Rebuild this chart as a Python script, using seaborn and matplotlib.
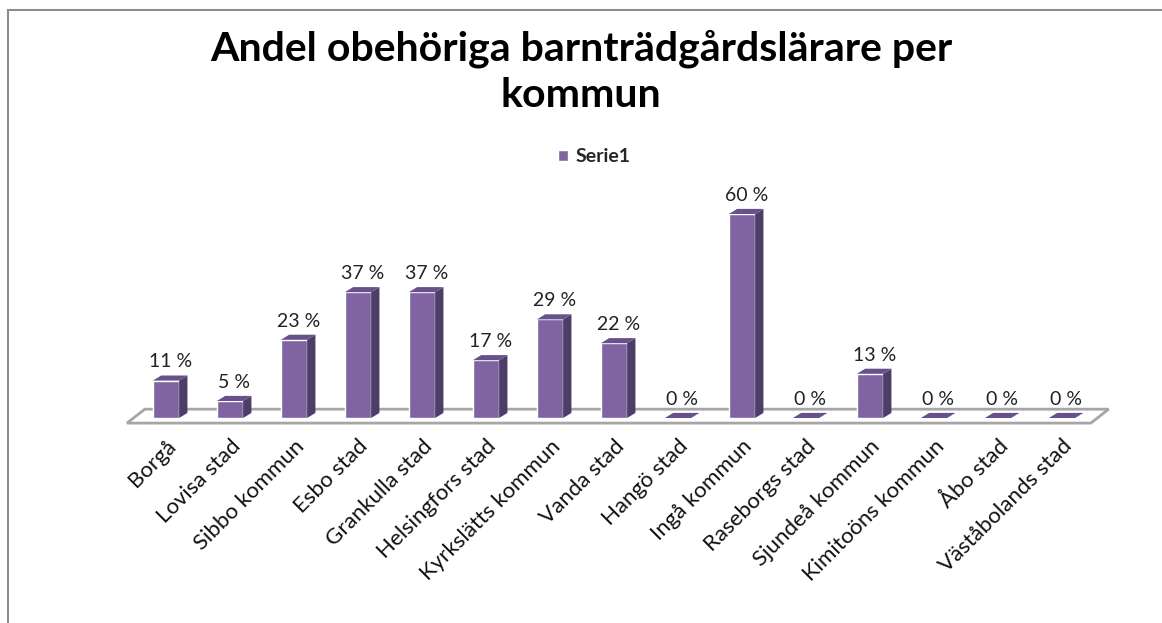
import matplotlib
matplotlib.use("Agg")
import matplotlib.pyplot as plt
import pandas as pd
import seaborn as sns
from matplotlib.patches import Polygon, Rectangle, Patch

# data
kommuner = ["Borgå", "Lovisa stad", "Sibbo kommun", "Esbo stad", "Grankulla stad",
            "Helsingfors stad", "Kyrkslätts kommun", "Vanda stad", "Hangö stad",
            "Ingå kommun", "Raseborgs stad", "Sjundeå kommun", "Kimitoöns kommun",
            "Åbo stad", "Väståbolands stad"]
andel = [11, 5, 23, 37, 37, 17, 29, 22, 0, 60, 0, 13, 0, 0, 0]
serie_namn = "Serie1"
titel = "Andel obehöriga barnträdgårdslärare per\nkommun"

front = "#8064a2"
side = "#4f3d69"
top = "#68518a"

sns.set_theme(style="white")
plt.rcParams["font.family"] = ["Lato", "DejaVu Sans"]

df = pd.DataFrame({"kommun": kommuner, "andel": andel})

fig = plt.figure(figsize=(11.62, 6.23), dpi=100)
ax = fig.add_axes([134 / 1162, 1 - 418 / 623, 960 / 1162, 238 / 623])
sns.barplot(data=df, x="kommun", y="andel", color=front, saturation=1,
            width=0.41, ax=ax, zorder=3)
ax.set_xlim(-0.5, len(kommuner) - 0.5)
ax.set_ylim(0, 70)

# fake 3D: side and top faces from each bar
dx, dy = 0.13, 1.5
for p, v in zip(ax.patches, andel):
    x0, w, h = p.get_x(), p.get_width(), p.get_height()
    if h > 0:
        ax.add_patch(Polygon([(x0 + w, 0), (x0 + w + dx, dy), (x0 + w + dx, h + dy), (x0 + w, h)],
                             closed=True, facecolor=side, edgecolor="none", zorder=3, clip_on=False))
    ax.add_patch(Polygon([(x0, h), (x0 + dx, h + dy), (x0 + w + dx, h + dy), (x0 + w, h)],
                         closed=True, facecolor=top, edgecolor="none", zorder=3, clip_on=False))
    ax.text(x0 + w / 2 + dx / 2, h + dy + 1.5, f"{v} %", ha="center", va="bottom",
            fontsize=14, color="#222222")

# floor plate
xl, xr = ax.get_xlim()
floor = Polygon([(xl - 0.11, -1.5), (xr - 0.05, -1.5), (xr + 0.23, 2.6), (xl + 0.17, 2.6)],
                closed=True, facecolor="white", edgecolor="#a6a6a6", lw=2, zorder=1, clip_on=False)
ax.add_patch(floor)

ax.set_xlabel("")
ax.set_ylabel("")
ax.set_yticks([])
for s in ax.spines.values():
    s.set_visible(False)
ax.tick_params(axis="x", length=0, pad=13)
plt.setp(ax.get_xticklabels(), rotation=45, ha="right", rotation_mode="anchor",
         fontsize=16, color="#111111")

fig.text(0.5, 1 - 72 / 623, titel, ha="center", va="center", fontsize=29.5,
         fontweight="bold", linespacing=1.3, color="black")

fig.legend(handles=[Patch(facecolor=front, label=serie_namn)], loc="center",
           bbox_to_anchor=(594 / 1162, 1 - 157 / 623), frameon=False,
           handlelength=0.55, handleheight=0.55, handletextpad=0.35,
           prop={"weight": "bold", "size": 14})

fig.patches.append(Rectangle((8 / 1162, -0.2), 1.2, 1 - 10 / 623 + 0.2, transform=fig.transFigure,
                             fill=False, edgecolor="#8c8c8c", lw=1.5))

fig.savefig("out.png", dpi=100)
